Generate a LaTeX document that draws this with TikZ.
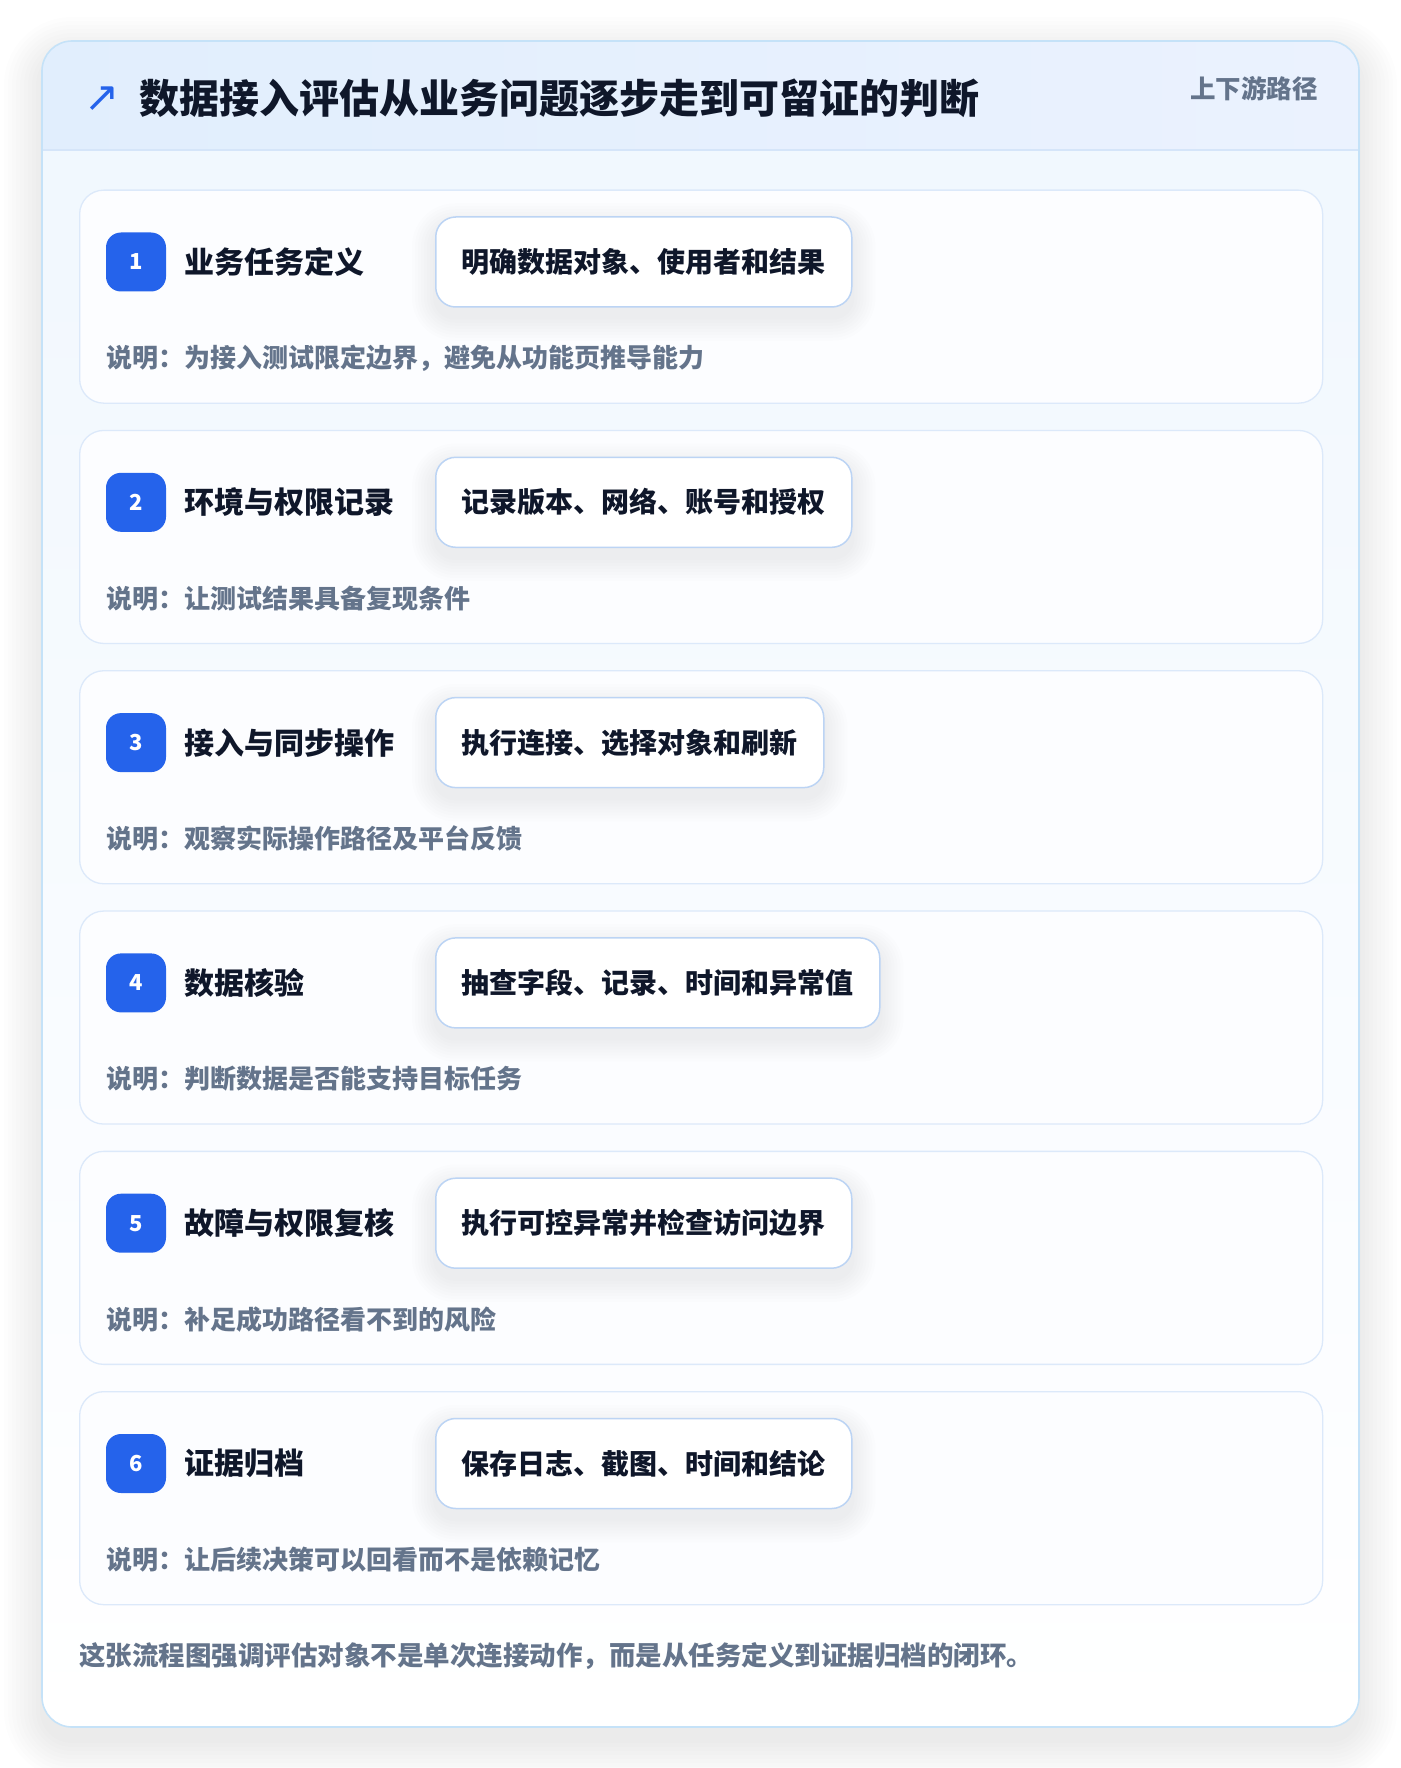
\documentclass[tikz,border=0pt]{standalone}
\usepackage{fontspec}
\setmainfont{Noto Sans CJK SC}
\newfontfamily\arrowfont{DejaVu Sans}
\usetikzlibrary{calc}
\pgfdeclarelayer{backlayer}
\pgfdeclarelayer{cardlayer}
\pgfdeclarelayer{shadowlayer}
\pgfsetlayers{backlayer,cardlayer,shadowlayer,main}
\definecolor{badgeblue}{HTML}{2563EB}
\definecolor{ink}{HTML}{0F172A}
\definecolor{muted}{HTML}{64748B}
\definecolor{outerborder}{HTML}{C5E2F8}
\definecolor{headA}{HTML}{E1EEFD}
\definecolor{headB}{HTML}{EBF2FE}
\definecolor{headline}{HTML}{D5E5F9}
\definecolor{bgtop}{HTML}{F0F7FE}
\definecolor{cardborder}{HTML}{DCE9FA}
\definecolor{cardfill}{HTML}{FCFDFF}
\definecolor{pillborder}{HTML}{BCD4F4}
\tikzset{
  stepcard/.style={draw=cardborder, line width=1.3pt, fill=cardfill, rounded corners=24pt, inner sep=0pt},
  badge/.style={fill=badgeblue, rounded corners=15pt, minimum width=60pt, minimum height=59pt, inner sep=0pt, text=white, font=\fontsize{22}{24}\selectfont\bfseries},
  steptitle/.style={anchor=west, inner sep=0pt, text=ink, font=\fontsize{30}{36}\selectfont\bfseries},
  pill/.style={anchor=west, draw=pillborder, line width=1.5pt, fill=white, rounded corners=20pt, minimum height=90pt, inner xsep=26pt, text=ink, font=\fontsize{28}{34}\selectfont\bfseries},
  desc/.style={anchor=west, inner sep=0pt, text=muted, font=\fontsize{26}{32}\selectfont\bfseries},
  softshadow/.style={fill=black, opacity=0.009}
}
\begin{document}
\begin{tikzpicture}[x=1pt,y=-1pt]
\useasboundingbox (0,0) rectangle (1400,1768);
\begin{pgfonlayer}{backlayer}
\fill[white] (0,0) rectangle (1400,1768);
% soft shadow of outer card
\foreach \s in {2,6,...,38} {
  \fill[softshadow, rounded corners={30pt+\s*1pt}] (42-\s,41-\s+14) rectangle (1359+\s,1727+\s+14);
}
\fill[white, rounded corners=30pt] (42,41) rectangle (1359,1727);
\shade[rounded corners=30pt, top color=bgtop, bottom color=white] (42,41) rectangle (1359,1727);
\begin{scope}
  \clip[rounded corners=30pt] (42,41) rectangle (1359,1727);
  \shade[left color=headA, right color=headB] (42,41) rectangle (1359,150);
  \draw[headline, line width=1.5pt] (42,150) -- (1359,150);
\end{scope}
\draw[outerborder, line width=1.6pt, rounded corners=30pt] (42,41) rectangle (1359,1727);
\end{pgfonlayer}
% header texts
\node[inner sep=0pt, text=badgeblue, font=\fontsize{42}{46}\selectfont\arrowfont] (icon) at (102,99) {↗};
\node[anchor=west, inner sep=0pt, text=ink, font=\fontsize{40}{48}\selectfont\bfseries] (title) at (139,98) {数据接入评估从业务问题逐步走到可留证的判断};
\node[anchor=east, inner sep=0pt, text=muted, font=\fontsize{25.5}{30}\selectfont\bfseries] (tag) at (1318,89) {上下游路径};
% steps
\foreach \n/\t/\p/\d in {
  1/业务任务定义/明确数据对象、使用者和结果/为接入测试限定边界，避免从功能页推导能力,
  2/环境与权限记录/记录版本、网络、账号和授权/让测试结果具备复现条件,
  3/接入与同步操作/执行连接、选择对象和刷新/观察实际操作路径及平台反馈,
  4/数据核验/抽查字段、记录、时间和异常值/判断数据是否能支持目标任务,
  5/故障与权限复核/执行可控异常并检查访问边界/补足成功路径看不到的风险,
  6/证据归档/保存日志、截图、时间和结论/让后续决策可以回看而不是依赖记忆}{
  \pgfmathsetmacro\top{189.5+(\n-1)*240.3}
  \begin{pgfonlayer}{cardlayer}
  \node[stepcard, anchor=north west, minimum width=1243pt, minimum height=213pt] (card\n) at (79,\top) {};
  \end{pgfonlayer}
  \node[badge] (badge\n) at (136,\top+72.5) {\n};
  \node[steptitle] (title\n) at (184,\top+72.5) {\t};
  \node[pill] (pill\n) at (435,\top+72.5) {\p};
  \begin{pgfonlayer}{shadowlayer}
  \foreach \s in {2,5,...,23} {
    \fill[softshadow, rounded corners={20pt+\s*1pt}] ($(pill\n.north west)+(-\s,-\s+10)$) rectangle ($(pill\n.south east)+(\s,\s+10)$);
  }
  \end{pgfonlayer}
  \node[desc] (desc\n) at (106,\top+168.5) {说明：\d};
}
% footer
\node[anchor=west, inner sep=0pt, text=muted, font=\fontsize{26.5}{32}\selectfont\bfseries] (footer) at (79,1656) {这张流程图强调评估对象不是单次连接动作，而是从任务定义到证据归档的闭环。};
\end{tikzpicture}
\end{document}
